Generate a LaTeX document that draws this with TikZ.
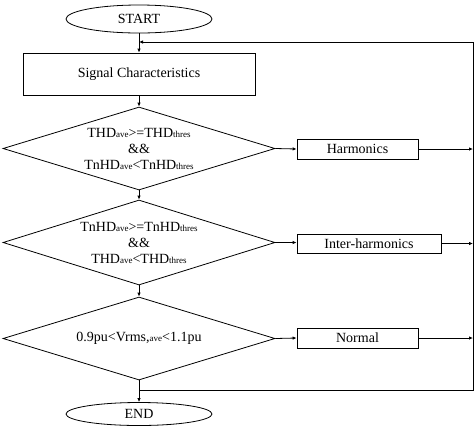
\documentclass[tikz,border=0pt]{standalone}
\usepackage{fontspec}
\setmainfont{Liberation Serif}
\usetikzlibrary{shapes.geometric,arrows.meta}
\newcommand{\sbs}[1]{{\fontsize{9}{9}\selectfont #1}}
\begin{document}
\begin{tikzpicture}[x=1pt,y=-1pt,line width=0.8pt,
  every node/.style={font=\fontsize{14}{16}\selectfont},
  term/.style={draw,ellipse,minimum width=146pt,inner sep=0pt},
  procbox/.style={draw,rectangle,inner sep=0pt},
  dec/.style={draw,diamond,minimum width=272pt,inner sep=0pt},
  txt/.style={align=center,inner sep=0pt},
  arr/.style={-{Latex[length=4pt,width=3.5pt]}}]
\useasboundingbox (0,0) rectangle (476,432);
\node[term,minimum height=28pt] (start) at (139,19) {START};
\node[procbox,minimum width=232pt,minimum height=42pt] (sig) at (139,74) {Signal Characteristics};
\node[dec,minimum height=83pt] (d1) at (139,148.5) {};
\node[txt] (t1) at (139,149) {THD\sbs{ave}>=THD\sbs{thres}\\ \&\&\\ TnHD\sbs{ave}<TnHD\sbs{thres}};
\node[dec,minimum height=85pt] (d2) at (139,242.5) {};
\node[txt] (t2) at (139,243) {TnHD\sbs{ave}>=TnHD\sbs{thres}\\ \&\&\\ THD\sbs{ave}<THD\sbs{thres}};
\node[dec,minimum height=83pt] (d3) at (139,338.5) {};
\node[txt] (t3) at (139,338) {0.9pu<Vrms,\sbs{ave}<1.1pu};
\node[term,minimum height=23pt] (end) at (139,414) {END};
\node[procbox,minimum width=121pt,minimum height=20pt] (h) at (357.5,149) {Harmonics};
\node[procbox,minimum width=144pt,minimum height=19pt] (ih) at (369,243.5) {Inter-harmonics};
\node[procbox,minimum width=121pt,minimum height=20pt] (n) at (357.5,338) {Normal};
\coordinate (j) at (139,390);
\coordinate (br) at (473,390);
\coordinate (tr) at (473,42);
\coordinate (entry) at (139,42);
\draw[arr] (start.south) -- (sig.north);
\draw[arr] (sig.south) -- (d1.north);
\draw[arr] (d1.south) -- (d2.north);
\draw[arr] (d2.south) -- (d3.north);
\draw[arr] (d3.south) -- (end.north);
\draw[arr] (d1.east) -- (h.west);
\draw[arr] (d2.east) -- (d2.east -| ih.west);
\draw[arr] (d3.east) -- (n.west);
\draw[arr] (h.east) -- (h.east -| tr);
\draw[arr] (ih.east) -- (ih.east -| tr);
\draw[arr] (n.east) -- (n.east -| tr);
\draw[arr] (j) -- (br) -- (tr) -- (entry);
\end{tikzpicture}
\end{document}
